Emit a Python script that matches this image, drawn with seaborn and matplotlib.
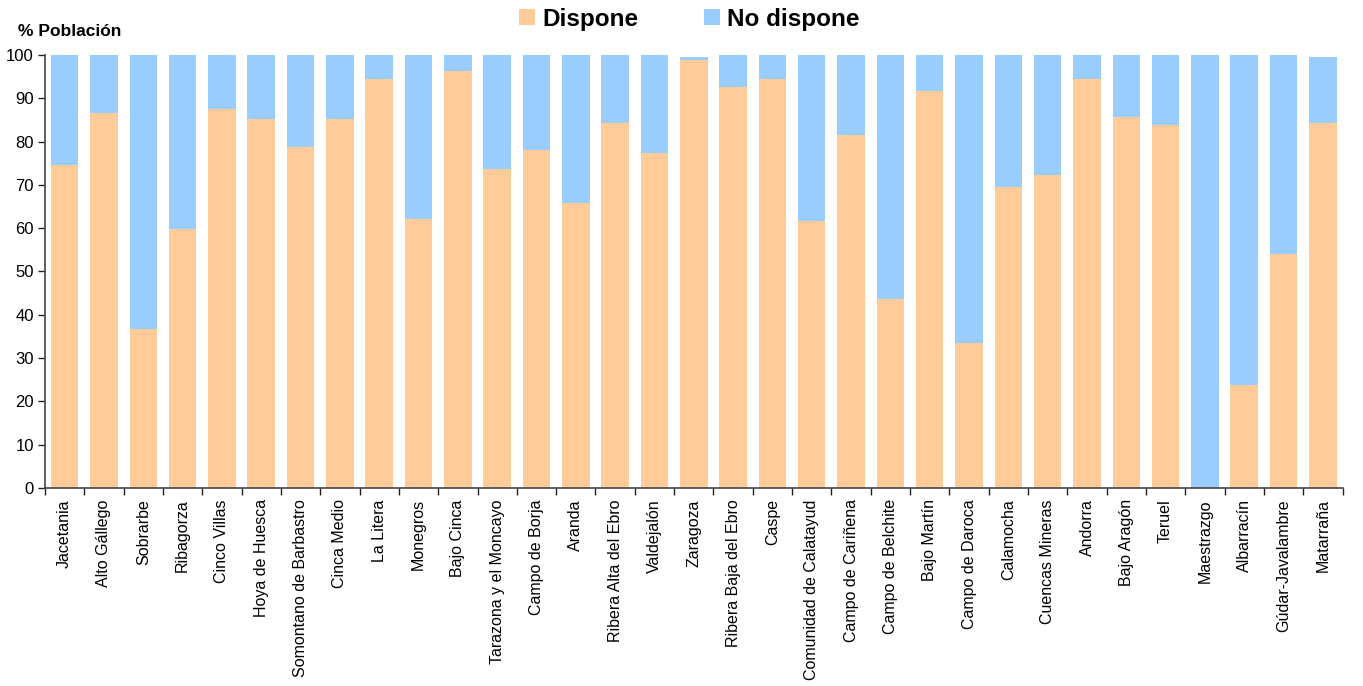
import matplotlib
matplotlib.use("Agg")
import matplotlib.pyplot as plt
import seaborn as sns
import pandas as pd
import numpy as np
from matplotlib.patches import Patch
from matplotlib.ticker import FixedLocator

comarcas = ["Jacetania", "Alto Gállego", "Sobrarbe", "Ribagorza", "Cinco Villas",
            "Hoya de Huesca", "Somontano de Barbastro", "Cinca Medio", "La Litera",
            "Monegros", "Bajo Cinca", "Tarazona y el Moncayo", "Campo de Borja",
            "Aranda", "Ribera Alta del Ebro", "Valdejalón", "Zaragoza",
            "Ribera Baja del Ebro", "Caspe", "Comunidad de Calatayud",
            "Campo de Cariñena", "Campo de Belchite", "Bajo Martín",
            "Campo de Daroca", "Calamocha", "Cuencas Mineras", "Andorra",
            "Bajo Aragón", "Teruel", "Maestrazgo", "Albarracín",
            "Gúdar-Javalambre", "Matarraña"]

dispone = [74.6, 86.5, 36.7, 59.8, 87.5, 85.2, 78.8, 85.2, 94.4, 62.1, 96.2,
           73.7, 78.0, 65.8, 84.3, 77.4, 98.8, 92.5, 94.5, 61.7, 81.6, 43.6,
           91.6, 33.4, 69.6, 72.3, 94.4, 85.7, 83.8, 0.0, 23.8, 54.0, 84.3]

no_dispone = [25.4, 13.5, 63.3, 40.2, 12.5, 14.8, 21.2, 14.8, 5.6, 37.9, 3.8,
              26.3, 22.0, 34.2, 15.7, 22.6, 0.8, 7.5, 5.5, 38.3, 18.4, 56.4,
              8.4, 66.6, 30.4, 27.7, 5.6, 14.3, 16.2, 100.0, 76.2, 46.0, 15.3]

df = pd.DataFrame({"comarca": comarcas, "dispone": dispone, "no_dispone": no_dispone})
df["total"] = df["dispone"] + df["no_dispone"]

orange = "#FFCC99"
blue = "#99CCFF"

sns.set_theme(style="white")
plt.rcParams["font.family"] = ["Liberation Sans", "DejaVu Sans"]
plt.rcParams["text.color"] = "black"
plt.rcParams["xtick.color"] = "black"
plt.rcParams["ytick.color"] = "black"
plt.rcParams["axes.labelcolor"] = "black"

fig = plt.figure(figsize=(13.63, 6.86), dpi=100)
ax = fig.add_axes([0.033, 0.2886, 0.952, 0.6314])

sns.barplot(data=df, x="comarca", y="total", color=blue, width=0.7,
            saturation=1, ax=ax, linewidth=0)
sns.barplot(data=df, x="comarca", y="dispone", color=orange, width=0.7,
            saturation=1, ax=ax, linewidth=0)

n = len(comarcas)
ax.set_xlim(-0.5, n - 0.5)
ax.set_ylim(0, 100)
ax.set_yticks(range(0, 101, 10))
ax.tick_params(axis="y", labelsize=12, length=5, width=1, direction="out",
               color="#222222", labelcolor="black", left=True, pad=3)
ax.set_xticks(range(n))
ax.set_xticklabels(comarcas, rotation=90, fontsize=11.5, color="black")
ax.tick_params(axis="x", which="major", length=0, pad=8)
ax.xaxis.set_minor_locator(FixedLocator(np.arange(-0.5, n, 1.0)))
ax.tick_params(axis="x", which="minor", length=5, width=1, color="#222222",
               direction="out", bottom=True)
ax.set_xlabel("")
ax.set_ylabel("")

for s in ["top", "right"]:
    ax.spines[s].set_visible(False)
for s in ["left", "bottom"]:
    ax.spines[s].set_color("#444444")
    ax.spines[s].set_linewidth(1.2)

fig.text(0.013, 0.943, "% Población", fontsize=12.5, fontweight="bold",
         ha="left", va="bottom", color="black")

handles = [Patch(facecolor=orange, edgecolor="none", label="Dispone"),
           Patch(facecolor=blue, edgecolor="none", label="No dispone")]
leg = fig.legend(handles=handles, loc="center", bbox_to_anchor=(0.506, 0.972),
                 ncol=2, frameon=False, prop={"weight": "bold", "size": 17.5},
                 handlelength=0.65, handleheight=0.65, handletextpad=0.3,
                 columnspacing=2.7)
for t in leg.get_texts():
    t.set_color("black")

fig.savefig("out.png", dpi=100)
